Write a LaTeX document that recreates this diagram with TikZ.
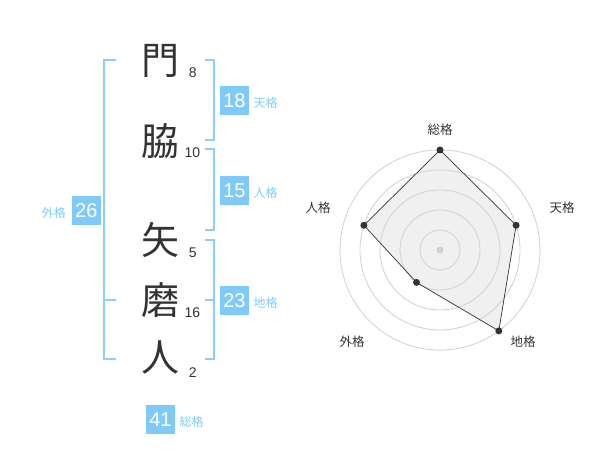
\documentclass[tikz,border=0pt]{standalone}
\usepackage{fontspec}
\setmainfont{Liberation Sans}
\newfontfamily\jp{Noto Sans CJK JP}
\definecolor{brk}{RGB}{140,206,248}
\definecolor{boxc}{RGB}{128,202,250}
\definecolor{ink}{RGB}{51,51,51}
\definecolor{ring}{RGB}{208,208,208}
\tikzset{
  kanji/.style={font=\jp\fontsize{38}{38}\selectfont, text=ink, inner sep=0pt},
  stroke/.style={font=\fontsize{14}{14}\selectfont, text=ink, inner sep=0pt},
  valbox/.style={fill=boxc, text=white, minimum width=29pt, minimum height=29pt, inner sep=0pt, font=\fontsize{20}{20}\selectfont},
  kaku/.style={font=\jp\fontsize{12}{12}\selectfont, text=boxc, inner sep=0pt},
  bracket/.style={draw=brk, line width=2pt},
  rlabel/.style={font=\jp\fontsize{12.5}{12.5}\selectfont, text=ink, inner sep=0pt},
  ringc/.style={draw=ring, line width=0.8pt},
  dot/.style={circle, fill=ink, minimum size=7pt, inner sep=0pt}
}
\begin{document}
\begin{tikzpicture}[x=1pt,y=-1pt]
\useasboundingbox (0,0) rectangle (600,470);
% characters
\node[kanji] (c1) at (160,60.5) {門};
\node[kanji] (c2) at (160,141.5) {脇};
\node[kanji] (c3) at (160,240) {矢};
\node[kanji] (c4) at (160,300) {磨};
\node[kanji] (c5) at (160,357) {人};
\node[stroke] (n1) at (192.7,72.7) {8};
\node[stroke] (n2) at (192.5,152.7) {10};
\node[stroke] (n3) at (192.7,252.7) {5};
\node[stroke] (n4) at (192.5,312.7) {16};
\node[stroke] (n5) at (192.7,373) {2};
% brackets
\draw[bracket] (116,60) -- (104,60) -- (104,359) -- (116,359);
\draw[bracket] (104,300) -- (116,300);
\draw[bracket] (205,60) -- (214,60) -- (214,140) -- (205,140);
\draw[bracket] (205,149) -- (214,149) -- (214,230) -- (205,230);
\draw[bracket] (205,240) -- (214,240) -- (214,359) -- (205,359);
\draw[bracket] (205,300) -- (214,300);
% value boxes
\node[valbox] (b18) at (234.5,100.5) {18};
\node[kaku, anchor=west] (k18) at (253.5,103) {天格};
\node[valbox] (b15) at (234.5,190.5) {15};
\node[kaku, anchor=west] (k15) at (253.5,193) {人格};
\node[valbox] (b23) at (234.5,300.5) {23};
\node[kaku, anchor=west] (k23) at (253.5,303) {地格};
\node[valbox] (b26) at (86.3,210.5) {26};
\node[kaku, anchor=east] (k26) at (66,213) {外格};
\node[valbox] (b41) at (160.5,419.5) {41};
\node[kaku, anchor=west] (k41) at (179.5,422) {総格};
% radar
\coordinate (ctr) at (440,250);
\coordinate (pA) at (440,150);
\coordinate (pB) at (516.1,225.3);
\coordinate (pC) at (498.8,330.9);
\coordinate (pD) at (416.5,282.4);
\coordinate (pE) at (363.9,225.3);
\fill[black!6] (pA) -- (pB) -- (pC) -- (pD) -- (pE) -- cycle;
\foreach \r in {20,40,60,80,100} { \draw[ringc] (ctr) circle (\r); }
\fill[ring] (ctr) circle (3.5);
\draw[ink, line width=0.7pt] (pA) -- (pB) -- (pC) -- (pD) -- (pE) -- cycle;
\foreach \p in {pA,pB,pC,pD,pE} { \node[dot] at (\p) {}; }
\node[rlabel] (lA) at (440,130) {総格};
\node[rlabel] (lB) at (562,208) {天格};
\node[rlabel] (lC) at (523,342) {地格};
\node[rlabel] (lD) at (352,342) {外格};
\node[rlabel] (lE) at (318,208) {人格};
\end{tikzpicture}
\end{document}
